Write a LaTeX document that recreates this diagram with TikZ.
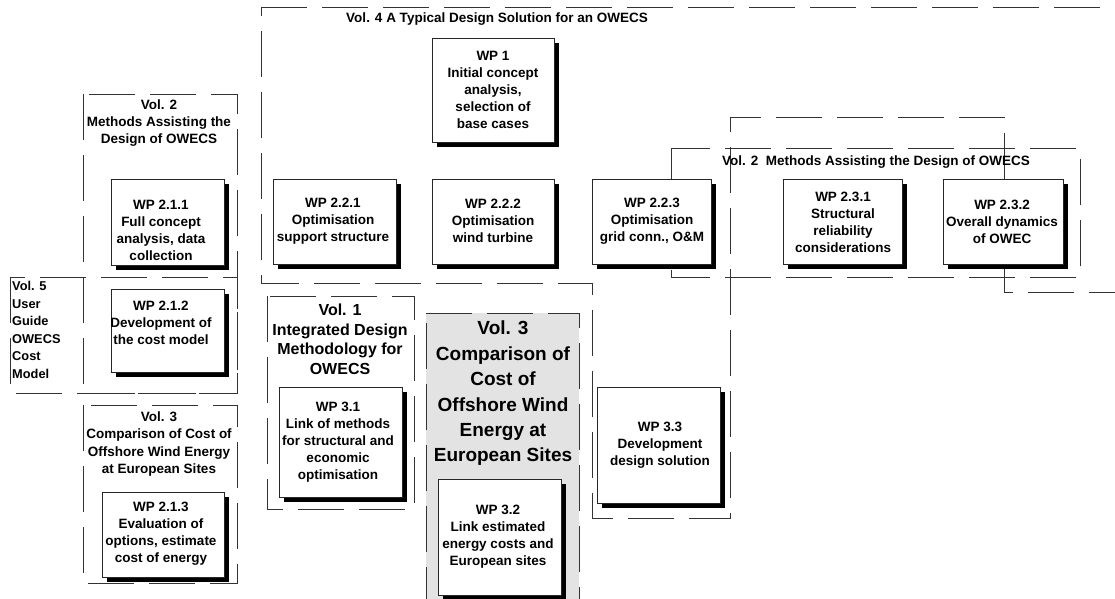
\documentclass[tikz,border=0pt]{standalone}
\usepackage{fontspec}
\setmainfont{Liberation Sans}
\usetikzlibrary{shadows}
\tikzset{
  vol/.style={draw=black!80, line width=0.9pt, dash pattern=on 46pt off 15pt},
  volgrey/.style={vol, fill=black!11},
  wpbox/.style={draw=black!85, line width=0.8pt, fill=white, inner sep=0pt,
    drop shadow={shadow xshift=5pt, shadow yshift=-5pt, opacity=1, fill=black}},
  wptext/.style={align=center, inner sep=0pt, font=\fontsize{13.5}{17}\selectfont\bfseries},
  voltext/.style={align=center, inner sep=0pt, font=\fontsize{13.5}{17.3}\selectfont\bfseries},
  volone/.style={align=center, inner sep=0pt, font=\fontsize{16}{19.5}\selectfont\bfseries},
  volbig/.style={align=center, inner sep=0pt, font=\fontsize{19}{25.4}\selectfont\bfseries},
  volfive/.style={align=left, inner sep=0pt, anchor=west, font=\fontsize{12.8}{17.6}\selectfont\bfseries}
}
\begin{document}
\begin{tikzpicture}[x=1pt, y=-1pt]
\useasboundingbox (0,0) rectangle (1115,598);
\clip (0,0) rectangle (1115,598);
\fill[white] (0,0) rectangle (1115,598);

% group outlines
\draw[vol] (261,7) -- (1135,7) -- (1135,292) -- (1004,292) -- (1004,117) -- (730,117)
  -- (730,518) -- (592,518) -- (592,283) -- (261,283) -- cycle;
\draw[vol] (671,148) rectangle (1080,277);
\draw[vol] (83,94) rectangle (237,393);
\draw[vol] (10,277) rectangle (237,393);
\draw[vol] (83,405) rectangle (237,583);
\draw[vol] (267,296) rectangle (414,509);
\draw[volgrey] (426,313) -- (579,313) -- (579,615) -- (426,615) -- cycle;

% group titles
\node[voltext] (vol4) at (497,19) {Vol. 4 A Typical Design Solution for an OWECS};
\node[voltext] (vol2r) at (876,162) {Vol. 2\ \ Methods Assisting the Design of OWECS};
\node[voltext] (vol2l) at (159,123) {Vol. 2\\Methods Assisting the\\Design of OWECS};
\node[voltext] (vol3l) at (159,444) {Vol. 3\\Comparison of Cost of\\Offshore Wind Energy\\at European Sites};
\node[volfive] (vol5) at (12,330) {Vol. 5\\User\\Guide\\OWECS\\Cost\\Model};
\node[volone] (vol1) at (340,339.5) {Vol. 1\\Integrated Design\\Methodology for\\OWECS};
\node[volbig] (vol3) at (503,393.5) {Vol. 3\\Comparison of\\Cost of\\Offshore Wind\\Energy at\\European Sites};

% work package boxes
\node[wpbox, minimum width=122pt, minimum height=104pt] (wp1) at (493,90) {};
\node[wpbox, minimum width=123pt, minimum height=85pt] (wp221) at (334.5,221.5) {};
\node[wpbox, minimum width=122pt, minimum height=85pt] (wp222) at (493,221.5) {};
\node[wpbox, minimum width=119pt, minimum height=85pt] (wp223) at (651.5,221.5) {};
\node[wpbox, minimum width=119pt, minimum height=85pt] (wp231) at (842.5,221.5) {};
\node[wpbox, minimum width=120pt, minimum height=85pt] (wp232) at (1003,221.5) {};
\node[wpbox, minimum width=113pt, minimum height=86pt] (wp211) at (167.5,222) {};
\node[wpbox, minimum width=113pt, minimum height=83pt] (wp212) at (167.5,330.5) {};
\node[wpbox, minimum width=122pt, minimum height=85pt] (wp213) at (163,534.5) {};
\node[wpbox, minimum width=123pt, minimum height=110pt] (wp31) at (340.5,442) {};
\node[wpbox, minimum width=123pt, minimum height=116pt] (wp32) at (499.5,537) {};
\node[wpbox, minimum width=123pt, minimum height=116pt] (wp33) at (658.5,445) {};

% work package texts
\node[wptext] (t1) at (493,89.5) {WP 1\\Initial concept\\analysis,\\selection of\\base cases};
\node[wptext] (t221) at (333,221) {WP 2.2.1\\Optimisation\\support structure};
\node[wptext] (t222) at (493,221) {WP 2.2.2\\Optimisation\\wind turbine};
\node[wptext] (t223) at (652,221) {WP 2.2.3\\Optimisation\\grid conn., O\&M};
\node[wptext] (t231) at (843,222) {WP 2.3.1\\Structural\\reliability\\considerations};
\node[wptext] (t232) at (1002,222) {WP 2.3.2\\Overall dynamics\\of OWEC};
\node[wptext] (t211) at (161,230) {WP 2.1.1\\Full concept\\analysis, data\\collection};
\node[wptext] (t212) at (161,323) {WP 2.1.2\\Development of\\the cost model};
\node[wptext] (t213) at (161,534) {WP 2.1.3\\Evaluation of\\options, estimate\\cost of energy};
\node[wptext] (t31) at (338,442) {WP 3.1\\Link of methods\\for structural and\\economic\\optimisation};
\node[wptext] (t32) at (498,537) {WP 3.2\\Link estimated\\energy costs and\\European sites};
\node[wptext] (t33) at (660,445) {WP 3.3\\Development\\design solution};
\end{tikzpicture}
\end{document}
